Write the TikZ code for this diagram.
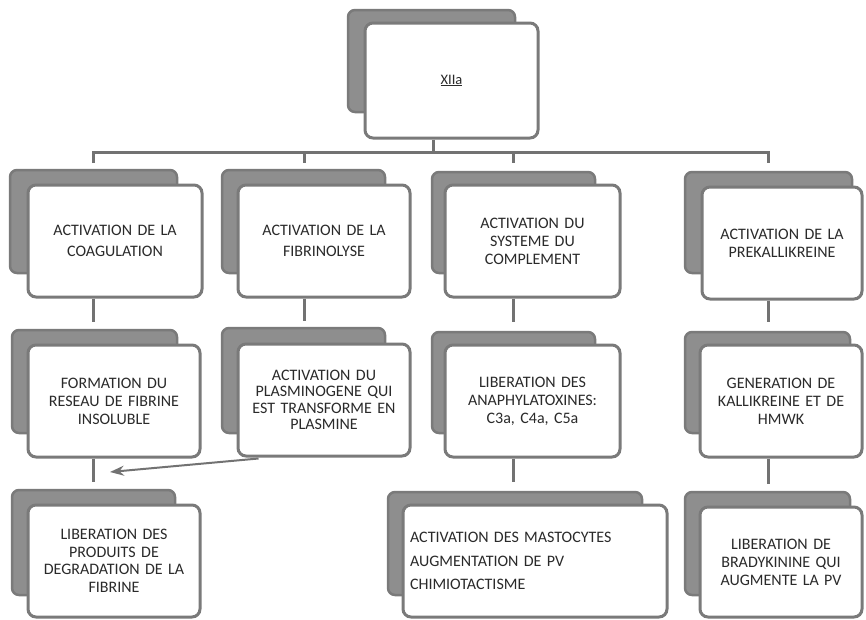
\documentclass[tikz,border=0pt]{standalone}
\usepackage{fontspec}
\setmainfont{Carlito}[WordSpace=1.5]
\usetikzlibrary{arrows.meta}
\definecolor{shadowgray}{HTML}{8E8E8E}
\definecolor{edgegray}{HTML}{7A7A7A}
\definecolor{linegray}{HTML}{727272}
\definecolor{textc}{HTML}{2A2A2A}
\tikzset{
  shadowbox/.style={fill=shadowgray, draw=edgegray, line width=2.5pt, rounded corners=7pt},
  frontbox/.style={fill=white, draw=edgegray, line width=3pt, rounded corners=8pt,
    align=center, text=textc, inner sep=0pt, font=\fontsize{16}{18}\selectfont},
  link/.style={draw=linegray, line width=3pt},
  pointer/.style={draw=linegray, line width=2pt, -{Stealth[length=14pt,width=10pt]}},
}
\begin{document}
\begin{tikzpicture}[x=1pt,y=-1pt]
\useasboundingbox (0,0) rectangle (866,619);
% column coordinates
\coordinate (col0) at (433,0);
\coordinate (col1) at (93,0);
\coordinate (col2) at (304,0);
\coordinate (col3) at (513,0);
\coordinate (col4) at (768,0);
\coordinate (busL) at (93,152);
\coordinate (busR) at (768,152);
\coordinate (arrEnd) at (110,472);

% ---------- top ----------
\draw[shadowbox] (348,10) rectangle (515,112);
\node[frontbox, minimum width=173pt, minimum height=115pt] (top) at (451.5,80.5) {\fontsize{14.5}{16}\selectfont\underline{XIIa}};

% ---------- row 1 ----------
\draw[shadowbox] (10,170) rectangle (177,273);
\node[frontbox, minimum width=174pt, minimum height=112pt, font=\fontsize{16}{21}\selectfont] (b1) at (115,241) {ACTIVATION DE LA\\COAGULATION};
\draw[shadowbox] (222,170) rectangle (385,273);
\node[frontbox, minimum width=172pt, minimum height=112pt, font=\fontsize{16}{21}\selectfont] (b2) at (324,241) {ACTIVATION DE LA\\FIBRINOLYSE};
\draw[shadowbox] (432,172) rectangle (595,273);
\node[frontbox, minimum width=175pt, minimum height=112pt] (b3) at (532.5,241) {ACTIVATION DU\\SYSTEME DU\\COMPLEMENT};
\draw[shadowbox] (685,172) rectangle (852,273);
\node[frontbox, minimum width=160pt, minimum height=112pt] (b4) at (782,243) {ACTIVATION DE LA\\PREKALLIKREINE};

% ---------- row 2 ----------
\draw[shadowbox] (12,330) rectangle (177,433);
\node[frontbox, minimum width=172pt, minimum height=112pt] (b5) at (114,401) {FORMATION DU\\RESEAU DE FIBRINE\\INSOLUBLE};
\draw[shadowbox] (222,328) rectangle (385,433);
\node[frontbox, minimum width=172pt, minimum height=112pt, font=\fontsize{16}{16.5}\selectfont] (b6) at (324,400) {ACTIVATION DU\\PLASMINOGENE QUI\\EST TRANSFORME EN\\PLASMINE};
\draw[shadowbox] (432,332) rectangle (595,433);
\node[frontbox, minimum width=175pt, minimum height=112pt] (b7) at (532.5,401) {LIBERATION DES\\ANAPHYLATOXINES:\\C3a, C4a, C5a};
\draw[shadowbox] (685,332) rectangle (850,433);
\node[frontbox, minimum width=162pt, minimum height=112pt] (b8) at (781,401) {GENERATION DE\\KALLIKREINE ET DE\\HMWK};

% ---------- row 3 ----------
\draw[shadowbox] (12,490) rectangle (175,595);
\node[frontbox, minimum width=172pt, minimum height=112pt, font=\fontsize{16}{17.5}\selectfont] (b9) at (114,561) {LIBERATION DES\\PRODUITS DE\\DEGRADATION DE LA\\FIBRINE};
\draw[shadowbox] (388,492) rectangle (642,595);
\node[frontbox, minimum width=264pt, minimum height=112pt, text width=250pt, align=left] (b10) at (535,561) {ACTIVATION DES MASTOCYTES\\[5.5pt]AUGMENTATION DE PV\\[5.5pt]CHIMIOTACTISME};
\draw[shadowbox] (685,492) rectangle (850,595);
\node[frontbox, minimum width=162pt, minimum height=110pt] (b11) at (781,562) {LIBERATION DE\\BRADYKININE QUI\\AUGMENTE LA PV};

% ---------- connectors ----------
\draw[link] (top.south -| col0) -- (busL -| col0);
\draw[link] ([yshift=-11pt]busL) -- (busL) -- (busR) -- ([yshift=-11pt]busR);
\draw[link] (busL -| col2) -- ++(0,11);
\draw[link] (busL -| col3) -- ++(0,11);

\draw[link] (b1.south -| col1) -- ([yshift=22pt]b5.north -| col1);
\draw[link] (b2.south -| col2) -- ([yshift=22pt]b6.north -| col2);
\draw[link] (b3.south -| col3) -- ([yshift=22pt]b7.north -| col3);
\draw[link] (b4.south -| col4) -- ([yshift=22pt]b8.north -| col4);

\draw[link] (b5.south -| col1) -- ([yshift=22pt]b9.north -| col1);
\draw[link] (b7.south -| col3) -- ([yshift=22pt]b10.north -| col3);
\draw[link] (b8.south -| col4) -- ([yshift=22pt]b11.north -| col4);

\draw[pointer] ([xshift=22pt,yshift=-1pt]b6.south west) -- (arrEnd);
\end{tikzpicture}
\end{document}
